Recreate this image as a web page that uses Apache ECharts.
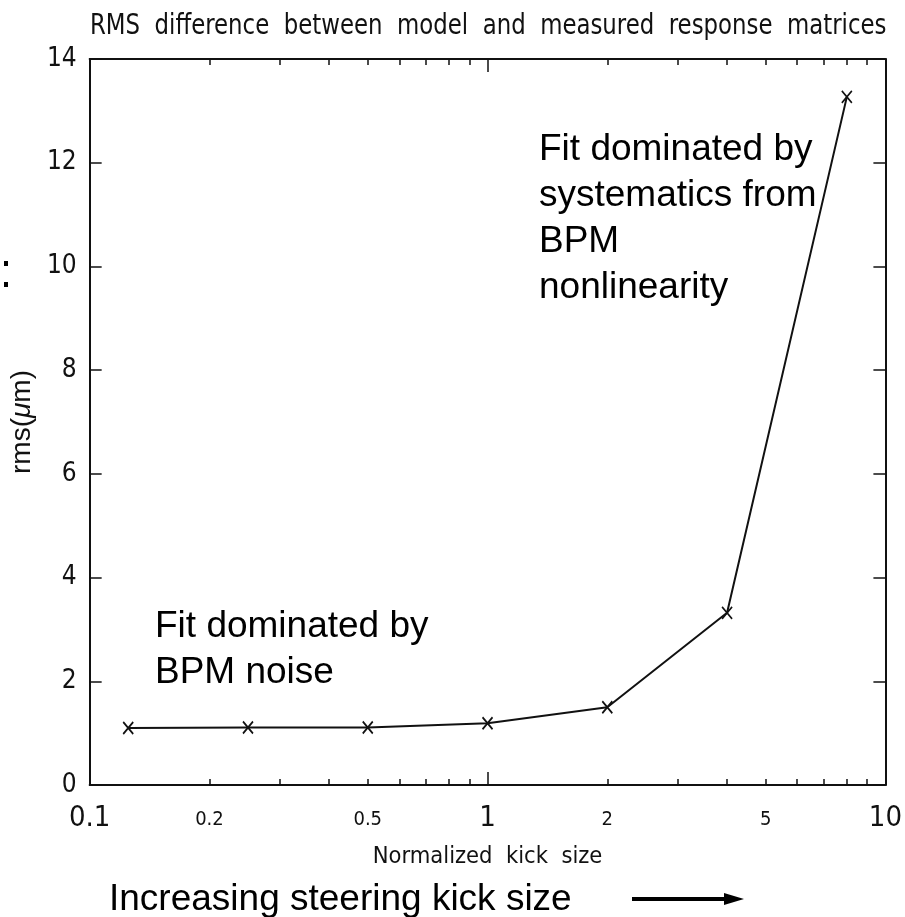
<!DOCTYPE html>
<html>
<head>
<meta charset="utf-8">
<script src="https://cdn.jsdelivr.net/npm/echarts@6/dist/echarts.min.js"></script>
<style>
  html, body { margin: 0; padding: 0; background: #ffffff; }
  #chart { width: 905px; height: 917px; }
</style>
</head>
<body>
<div id="chart"></div>
<script>
// Normalized kick size (log scale) and RMS difference in micrometres
const kickSize = [0.125, 0.25, 0.5, 1, 2, 4, 8];
const rmsValues = [1.10, 1.11, 1.11, 1.19, 1.50, 3.32, 13.27];

// Axis tick and label positions
const decadeLabels = [0.1, 1, 10];
const minorLabels = [0.2, 0.5, 2, 5];
const decadeTicks = [1];
const minorTicks = [0.2, 0.3, 0.4, 0.5, 0.6, 0.7, 0.8, 0.9, 2, 3, 4, 5, 6, 7, 8, 9];
const yTicks = { min: 0, max: 14, interval: 2 };

const titleText = 'RMS  difference  between  model  and  measured  response  matrices';
const xName = 'Normalized  kick  size';
const noteLow = 'Fit dominated by\nBPM noise';
const noteHigh = 'Fit dominated by\nsystematics from\nBPM\nnonlinearity';
const footText = 'Increasing steering kick size';

const NARROW = "'DejaVu Sans Condensed', 'Liberation Sans Narrow', 'DejaVu Sans', sans-serif";
const SANS = "'Liberation Sans', Arial, sans-serif";
const INK = '#111111';

const fmtNum = v => String(Math.round(v * 10) / 10);

function xAxisBase(position) {
  return {
    type: 'log',
    logBase: 10,
    min: 0.1,
    max: 10,
    position: position,
    splitLine: { show: false },
    minorTick: { show: false },
    axisLine: { show: false, onZero: false, lineStyle: { color: INK, width: 2 } },
    axisTick: { show: false },
    axisLabel: { show: false }
  };
}

const xAxes = [];
// bottom: frame line, decade tick, large decade labels, axis name
const xb0 = xAxisBase('bottom');
xb0.axisLine.show = true;
xb0.axisTick = { show: true, inside: true, length: 13, customValues: decadeTicks, lineStyle: { color: INK, width: 1.5 } };
xb0.axisLabel = { show: true, customValues: decadeLabels, formatter: fmtNum, fontFamily: NARROW, fontSize: 29, color: INK, margin: 19 };
xb0.name = xName;
xb0.nameLocation = 'middle';
xb0.nameGap = 60;
xb0.nameTextStyle = { fontFamily: NARROW, fontSize: 23.5, color: INK };
xAxes.push(xb0);
// bottom: minor ticks with smaller labels
const xb1 = xAxisBase('bottom');
xb1.axisTick = { show: true, inside: true, length: 6, customValues: minorTicks, lineStyle: { color: INK, width: 1.5 } };
xb1.axisLabel = { show: true, customValues: minorLabels, formatter: fmtNum, fontFamily: NARROW, fontSize: 20, color: INK, margin: 25 };
xAxes.push(xb1);
// top: frame line with decade tick
const xt0 = xAxisBase('top');
xt0.axisLine.show = true;
xt0.axisTick = { show: true, inside: true, length: 13, customValues: decadeTicks, lineStyle: { color: INK, width: 1.5 } };
xAxes.push(xt0);
// top: minor ticks
const xt1 = xAxisBase('top');
xt1.axisTick = { show: true, inside: true, length: 6, customValues: minorTicks, lineStyle: { color: INK, width: 1.5 } };
xAxes.push(xt1);

const yAxes = [
  {
    type: 'value',
    position: 'left',
    min: yTicks.min, max: yTicks.max, interval: yTicks.interval,
    splitLine: { show: false },
    axisLine: { show: true, onZero: false, lineStyle: { color: INK, width: 2 } },
    axisTick: { show: true, inside: true, length: 12, lineStyle: { color: INK, width: 1.5 } },
    axisLabel: { fontFamily: NARROW, fontSize: 26, color: INK, margin: 13 },
    name: '{n|rms(}{mu|μ}{n|m)}',
    nameLocation: 'middle',
    nameRotate: 90,
    nameGap: 40,
    nameTextStyle: {
      rich: {
        n: { fontFamily: SANS, fontSize: 28, color: INK },
        mu: { fontFamily: SANS, fontSize: 28, fontStyle: 'italic', color: INK }
      }
    }
  },
  {
    type: 'value',
    position: 'right',
    min: yTicks.min, max: yTicks.max, interval: yTicks.interval,
    splitLine: { show: false },
    axisLine: { show: true, onZero: false, lineStyle: { color: INK, width: 2 } },
    axisTick: { show: true, inside: true, length: 12, lineStyle: { color: INK, width: 1.5 } },
    axisLabel: { show: false }
  }
];

const chart = echarts.init(document.getElementById('chart'), null, { renderer: 'canvas' });

chart.setOption({
  animation: false,
  backgroundColor: '#ffffff',
  grid: { left: 89, right: 17, top: 59, bottom: 132, containLabel: false },
  xAxis: xAxes,
  yAxis: yAxes,
  series: [{
    type: 'line',
    xAxisIndex: 0,
    yAxisIndex: 0,
    data: kickSize.map((k, i) => [k, rmsValues[i]]),
    symbol: 'path://M0,0L10,12M10,0L0,12',
    symbolSize: [10, 12],
    showSymbol: true,
    itemStyle: { color: 'rgba(0,0,0,0)', borderColor: INK, borderWidth: 1.8 },
    lineStyle: { color: INK, width: 2 },
    emphasis: { disabled: true }
  }],
  graphic: [
    // chart title, drawn slightly tall to suit the narrow plotter lettering
    { type: 'text', x: 90, y: 12, scaleY: 1.13, style: { text: titleText, font: '25.4px ' + NARROW, fill: INK, verticalAlign: 'top' } },
    { type: 'text', left: 155, top: 604, style: { text: noteLow, font: '37px ' + SANS, lineHeight: 46, fill: '#000' } },
    { type: 'text', left: 539, top: 127, style: { text: noteHigh, font: '37px ' + SANS, lineHeight: 46, fill: '#000' } },
    { type: 'text', left: 109, top: 877, style: { text: footText, font: '37px ' + SANS, lineHeight: 46, fill: '#000' } },
    { type: 'line', shape: { x1: 632, y1: 899, x2: 728, y2: 899 }, style: { stroke: '#000', lineWidth: 4 } },
    { type: 'polygon', shape: { points: [[724, 893], [744, 899], [724, 905]] }, style: { fill: '#000' } },
    { type: 'rect', shape: { x: 4, y: 261, width: 4, height: 5 }, style: { fill: '#000' } },
    { type: 'rect', shape: { x: 4, y: 282, width: 4, height: 5 }, style: { fill: '#000' } }
  ]
});
</script>
</body>
</html>
